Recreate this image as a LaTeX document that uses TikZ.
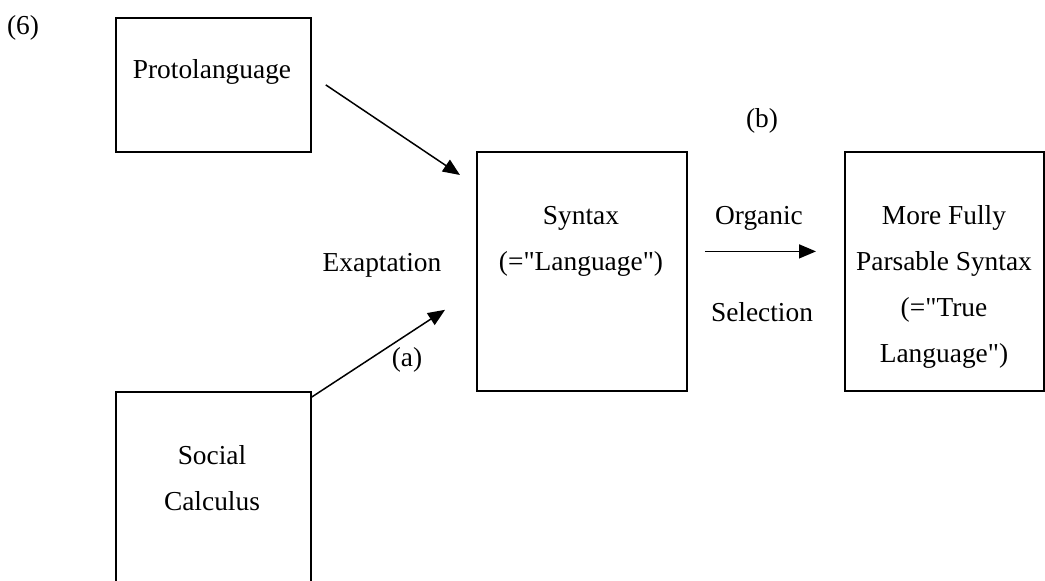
\documentclass[tikz,border=0pt]{standalone}
\usepackage{fontspec}
\setmainfont{Liberation Serif}[Ligatures=TeXOff]
\usetikzlibrary{arrows.meta}

\begin{document}
\begin{tikzpicture}[x=0.5pt,y=-0.5pt,>={Triangle[length=8.5pt,width=7pt]},
    box/.style={draw,line width=0.9pt,anchor=north west,inner sep=0pt},
    txt/.style={font=\fontsize{13.7}{23}\selectfont,align=center,inner sep=0pt},
    arr/.style={->,line width=0.75pt}]
    \useasboundingbox (0,0) rectangle (1045,580);
    % boxes
    \node[box,minimum width=97.5pt,minimum height=67pt] (proto) at (115,17) {};
    \node[box,minimum width=97.5pt,minimum height=105pt] (soc) at (115,391) {};
    \node[box,minimum width=105pt,minimum height=119.5pt] (syn) at (476,151) {};
    \node[box,minimum width=99.5pt,minimum height=119.5pt] (more) at (844,151) {};
    % texts in the boxes
    \node[txt] (protot) at (212,72) {Protolanguage};
    \node[txt] (soct) at (212,478) {Social\\Calculus};
    \node[txt] (synt) at (581,241) {Syntax\\(="Language")};
    \node[txt] (moret) at (944,287) {More Fully\\Parsable Syntax\\(="True\\Language")};
    % labels
    \node[txt] (num) at (23,28) {(6)};
    \node[txt] (lb) at (762,121) {(b)};
    \node[txt] (exap) at (382,265) {Exaptation};
    \node[txt] (la) at (407,360) {(a)};
    \node[txt] (org) at (759,218) {Organic};
    \node[txt] (sel) at (762,312) {Selection};
    % arrows
    \draw[arr] ([xshift=7pt]proto.east) -- ([shift={(-16,24)}]syn.north west);
    \draw[arr] ([yshift=-3pt]soc.north east) -- ([shift={(-31,-82)}]syn.south west);
    \draw[arr] ([shift={(17,-20)}]syn.east) -- ([shift={(-28,-20)}]more.west);
\end{tikzpicture}
\end{document}
